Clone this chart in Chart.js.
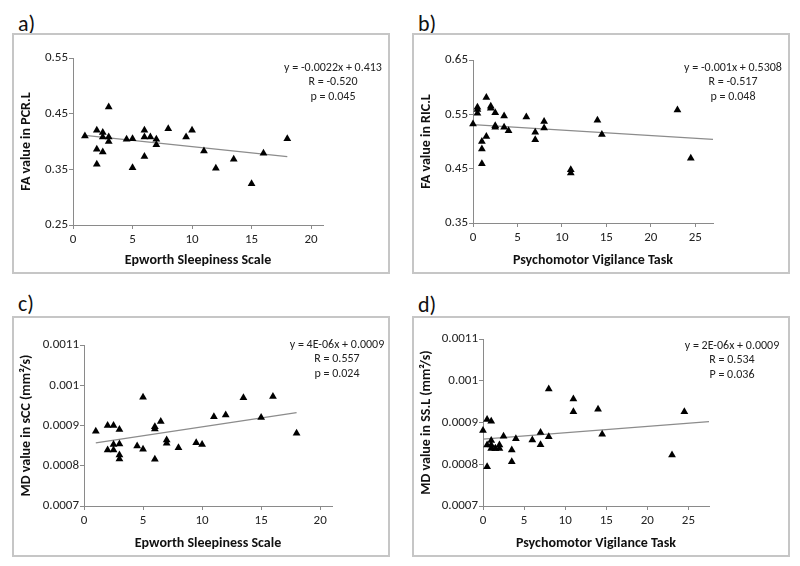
<!DOCTYPE html>
<html>
<head>
<meta charset="utf-8">
<script src="https://cdn.jsdelivr.net/npm/chart.js@4"></script>
<style>
body { margin:0; background:#fff; width:800px; height:566px; position:relative; overflow:hidden; font-family: Carlito, "Liberation Sans Narrow", Lato, sans-serif; }
.panel { position:absolute; width:378px; height:241px; box-sizing:border-box; border:2px solid #c6c6c6; }
.panel canvas { position:absolute; left:0; top:0; }
.letter { position:absolute; font-size:22px; color:#111; line-height:22px; }
.eq { position:absolute; font-size:12px; color:#222; text-align:center; width:130px; line-height:14.3px; }
</style>
</head>
<body>
<div class="letter" style="left:18px;top:13px">a)</div>
<div class="letter" style="left:418px;top:13px">b)</div>
<div class="letter" style="left:18px;top:293px">c)</div>
<div class="letter" style="left:418px;top:294px">d)</div>

<div class="panel" style="left:12px;top:33px"><canvas id="chartA" width="374" height="237"></canvas></div>
<div class="panel" style="left:412px;top:33px"><canvas id="chartB" width="374" height="237"></canvas></div>
<div class="panel" style="left:12px;top:316px"><canvas id="chartC" width="374" height="237"></canvas></div>
<div class="panel" style="left:412px;top:316px"><canvas id="chartD" width="374" height="237"></canvas></div>

<div class="eq" style="left:268px;top:60px">y = -0.0022x + 0.413<br>R = -0.520<br>p = 0.045</div>
<div class="eq" style="left:668px;top:60px">y = -0.001x + 0.5308<br>R = -0.517<br>p = 0.048</div>
<div class="eq" style="left:272px;top:337px">y = 4E-06x + 0.0009<br>R = 0.557<br>p = 0.024</div>
<div class="eq" style="left:667px;top:338px">y = 2E-06x + 0.0009<br>R = 0.534<br>P = 0.036</div>

<script>
// Values
var essA = [1, 2, 2, 2, 2.5, 2.5, 2.5, 3, 3, 3, 4.5, 5, 5, 6, 6, 6, 6.5, 7, 7, 8, 9.5, 10, 11, 12, 13.5, 15, 16, 18];
var faPcrL = [0.410, 0.420, 0.386, 0.359, 0.416, 0.408, 0.381, 0.462, 0.408, 0.400, 0.404, 0.405, 0.353, 0.420, 0.408, 0.373, 0.408, 0.404, 0.394, 0.423, 0.408, 0.420, 0.383, 0.352, 0.368, 0.324, 0.379, 0.405];
var trendAx = [1, 18];
var trendAy = [0.411, 0.373];

var pvtB = [0, 0.5, 0.5, 0.5, 1, 1, 1, 1.5, 1.5, 2, 2, 2.5, 2.5, 2.5, 3.5, 3.5, 4, 6, 7, 7, 8, 8, 11, 11, 14, 14.5, 23, 24.5];
var faRicL = [0.532, 0.559, 0.552, 0.563, 0.500, 0.486, 0.459, 0.581, 0.509, 0.565, 0.561, 0.553, 0.529, 0.526, 0.547, 0.526, 0.520, 0.545, 0.517, 0.503, 0.537, 0.525, 0.448, 0.442, 0.539, 0.513, 0.558, 0.469];
var trendBx = [0, 27];
var trendBy = [0.531, 0.504];

var essC = [1, 2, 2, 2.5, 2.5, 2.5, 3, 3, 3, 3, 4.5, 5, 5, 6, 6, 6, 6.5, 7, 7, 8, 9.5, 10, 11, 12, 13.5, 15, 16, 18];
var mdScc = [0.000886, 0.000900, 0.000839, 0.000900, 0.000853, 0.000839, 0.000890, 0.000854, 0.000827, 0.000817, 0.000849, 0.000970, 0.000841, 0.000897, 0.000891, 0.000816, 0.000910, 0.000864, 0.000856, 0.000845, 0.000857, 0.000853, 0.000922, 0.000926, 0.000969, 0.000920, 0.000972, 0.000881];
var trendCx = [1, 18];
var trendCy = [0.000857, 0.000932];

var pvtD = [0, 0.5, 0.5, 0.5, 1, 1, 1, 1, 1.5, 1.5, 2, 2, 2.5, 3.5, 3.5, 4, 6, 7, 7, 8, 8, 11, 11, 14, 14.5, 23, 24.5];
var mdSsL = [0.000881, 0.000907, 0.000846, 0.000794, 0.000903, 0.000857, 0.000846, 0.000838, 0.000838, 0.000838, 0.000846, 0.000838, 0.000867, 0.000834, 0.000806, 0.000861, 0.000858, 0.000876, 0.000847, 0.000866, 0.000980, 0.000956, 0.000926, 0.000932, 0.000872, 0.000822, 0.000926];
var trendDx = [0, 27.5];
var trendDy = [0.00086, 0.000902];

// Tick values and labels
var essTicks = [0, 5, 10, 15, 20];
var pvtTicks = [0, 5, 10, 15, 20, 25];
var faTicksA = [0.25, 0.35, 0.45, 0.55];
var faLabelsA = ["0.25", "0.35", "0.45", "0.55"];
var faTicksB = [0.35, 0.45, 0.55, 0.65];
var faLabelsB = ["0.35", "0.45", "0.55", "0.65"];
var mdTicks = [0.0007, 0.0008, 0.0009, 0.001, 0.0011];
var mdLabels = ["0.0007", "0.0008", "0.0009", "0.001", "0.0011"];

var axisGray = '#8a8a8a';
var fontFam = 'Carlito, "Liberation Sans Narrow", Lato, sans-serif';

function makePanel(id, xs, ys, tx, ty, o) {
    var pts = xs.map(function (x, i) { return { x: x, y: ys[i] }; });
    var line = tx.map(function (x, i) { return { x: x, y: ty[i] }; });
    new Chart(document.getElementById(id), {
        type: 'scatter',
        data: {
            datasets: [
                { data: line, showLine: true, borderColor: '#8c8c8c', borderWidth: 1.3, pointRadius: 0, order: 2, clip: false },
                { data: pts, pointStyle: 'triangle', pointRadius: 4.5, backgroundColor: '#000', borderColor: '#000', borderWidth: 0, order: 1, clip: false }
            ]
        },
        options: {
            responsive: false,
            animation: false,
            layout: { padding: { top: o.top, right: o.right, left: 0, bottom: 0 } },
            plugins: { legend: { display: false }, tooltip: { enabled: false } },
            scales: {
                x: {
                    type: 'linear', min: 0, max: o.xMax,
                    afterBuildTicks: function (s) { s.ticks = o.xTicks.map(function (v) { return { value: v }; }); },
                    afterFit: function (s) { s.height = o.xH; },
                    grid: { drawOnChartArea: false, drawTicks: true, tickLength: 4, color: axisGray },
                    border: { color: axisGray, width: 1 },
                    ticks: { color: '#222', font: { size: 13, family: fontFam }, padding: 3, maxRotation: 0 },
                    title: { display: true, text: o.xTitle, color: '#111', font: { size: 14, weight: 'bold', family: fontFam }, padding: { top: 0, bottom: 3 } }
                },
                y: {
                    type: 'linear', min: o.yTicks[0], max: o.yTicks[o.yTicks.length - 1],
                    afterBuildTicks: function (s) { s.ticks = o.yTicks.map(function (v) { return { value: v }; }); },
                    afterFit: function (s) { s.width = o.yW; },
                    grid: { drawOnChartArea: false, drawTicks: true, tickLength: 4, color: axisGray },
                    border: { color: axisGray, width: 1 },
                    ticks: {
                        color: '#222', font: { size: 13, family: fontFam }, padding: 1,
                        callback: function (v, i) { return o.yLabels[i]; }
                    },
                    title: { display: true, text: o.yTitle, color: '#111', font: { size: 14, weight: 'bold', family: fontFam }, padding: { top: 4, bottom: 0 } }
                }
            }
        }
    });
}

makePanel('chartA', essA, faPcrL, trendAx, trendAy, {
    top: 23, right: 65, yW: 59, xH: 47, xMax: 21, xTicks: essTicks,
    yTicks: faTicksA, yLabels: faLabelsA,
    xTitle: 'Epworth Sleepiness Scale', yTitle: 'FA value in PCR.L'
});
makePanel('chartB', pvtB, faRicL, trendBx, trendBy, {
    top: 25, right: 75, yW: 59, xH: 49, xMax: 27, xTicks: pvtTicks,
    yTicks: faTicksB, yLabels: faLabelsB,
    xTitle: 'Psychomotor Vigilance Task', yTitle: 'FA value in RIC.L'
});
makePanel('chartC', essC, mdScc, trendCx, trendCy, {
    top: 27, right: 56, yW: 70, xH: 49, xMax: 21, xTicks: essTicks,
    yTicks: mdTicks, yLabels: mdLabels,
    xTitle: 'Epworth Sleepiness Scale', yTitle: 'MD value in sCC (mm²/s)'
});
makePanel('chartD', pvtD, mdSsL, trendDx, trendDy, {
    top: 21, right: 79, yW: 69, xH: 49, xMax: 27.5, xTicks: pvtTicks,
    yTicks: mdTicks, yLabels: mdLabels,
    xTitle: 'Psychomotor Vigilance Task', yTitle: 'MD value in SS.L (mm²/s)'
});
</script>
</body>
</html>
